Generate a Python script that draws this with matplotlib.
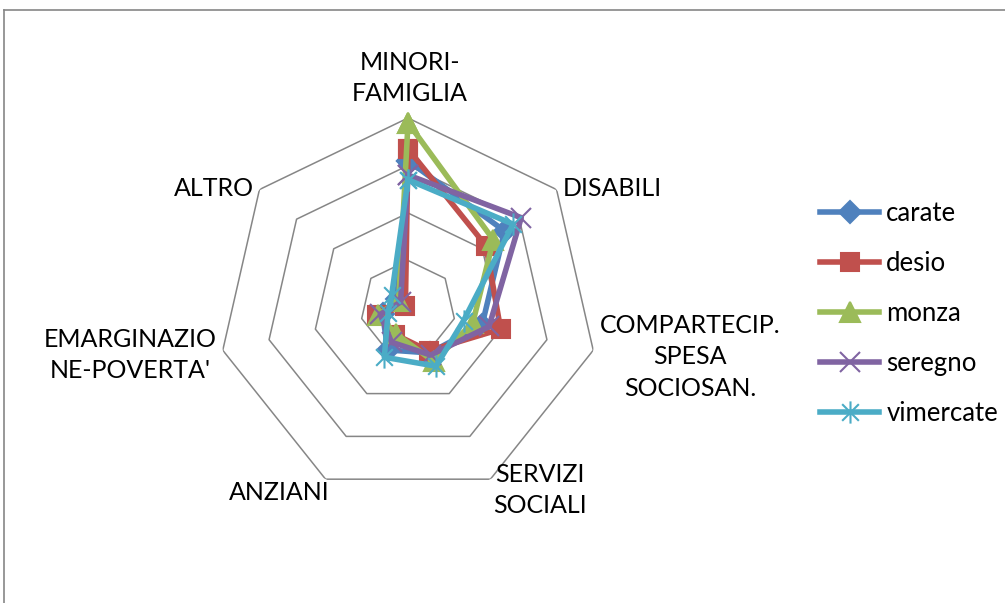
import numpy as np
import matplotlib
matplotlib.use('Agg')
import matplotlib.pyplot as plt
from matplotlib.path import Path
from matplotlib.lines import Line2D

plt.rcParams['font.family'] = ['Lato', 'DejaVu Sans']

categories = ["MINORI-\nFAMIGLIA", "DISABILI", "COMPARTECIP.\nSPESA\nSOCIOSAN.",
              "SERVIZI\nSOCIALI", "ANZIANI", "EMARGINAZIO\nNE-POVERTA'", "ALTRO"]
series_names = ["carate", "desio", "monza", "seregno", "vimercate"]
carate = [31, 26, 16, 10.5, 9.8, 5.5, 3]
desio = [33.5, 21, 20, 10, 6.2, 6.8, 0.7]
monza = [39, 23, 14, 12.5, 6, 6.5, 2.5]
seregno = [28, 30.5, 17.5, 11, 8, 6, 2]
vimercate = [27, 28.3, 12, 13.6, 11.5, 4.3, 4.4]
grid_levels = [10, 20, 30, 40]

colors = ['#4F81BD', '#C0504D', '#9BBB59', '#8064A2', '#4BACC6']
asterisk = Path([(0, -1), (0, 1), (-0.75, -0.75), (0.75, 0.75), (-0.75, 0.75), (0.75, -0.75)],
                [Path.MOVETO, Path.LINETO, Path.MOVETO, Path.LINETO, Path.MOVETO, Path.LINETO])
markers = ['D', 's', '^', 'x', asterisk]
msizes = [11, 13, 14, 14, 16]

W, H = 1005, 603
fig = plt.figure(figsize=(W / 100, H / 100), dpi=100)

cx, cy, R = 408, 308, 190
ax = fig.add_axes([(cx - R) / W, 1 - (cy + R) / H, 2 * R / W, 2 * R / H], projection='polar')
ax.set_theta_offset(np.pi / 2)
ax.set_theta_direction(-1)
ax.set_ylim(0, grid_levels[-1])
ax.set_xticks([])
ax.set_yticks([])
ax.grid(False)
ax.spines['polar'].set_visible(False)
ax.patch.set_alpha(0)

n = len(categories)
angles = np.linspace(0, 2 * np.pi, n, endpoint=False)
ang_c = np.append(angles, angles[0])

for lvl in grid_levels:
    ax.plot(ang_c, [lvl] * (n + 1), color='#868686', lw=1.1, zorder=1)

all_series = [carate, desio, monza, seregno, vimercate]
for name, vals, col, mk, ms in zip(series_names, all_series, colors, markers, msizes):
    v = list(vals) + [vals[0]]
    ax.plot(ang_c, v, color=col, lw=4, marker=mk, markersize=ms,
            markerfacecolor=col, markeredgecolor=col, markeredgewidth=1.5,
            label=name, zorder=3, clip_on=False)

# category labels (pixel positions)
label_pos = [(410, 78, 'center'), (563, 188, 'left'), (690, 357, 'center'),
             (540, 490, 'center'), (279, 492, 'center'), (130, 355, 'center'),
             (254, 188, 'right')]
for lab, (px, py, ha) in zip(categories, label_pos):
    fig.text(px / W, 1 - py / H, lab, ha=ha, va='center', fontsize=18,
             linespacing=1.45, color='black', multialignment='center')

leg = fig.legend(loc='upper left', bbox_to_anchor=(820 / W, 1 - 201 / H),
                 frameon=False, fontsize=18.5, handlelength=2.3, handletextpad=0.28,
                 labelspacing=0.97, borderpad=0, borderaxespad=0)

# chart border (extends off the image at right and bottom)
fig.add_artist(Line2D([3.5 / W, 1.01], [1 - 10 / H, 1 - 10 / H], color='#868686', lw=1.2,
                      transform=fig.transFigure))
fig.add_artist(Line2D([3.5 / W, 3.5 / W], [1 - 10 / H, -0.01], color='#868686', lw=1.2,
                      transform=fig.transFigure))

fig.savefig('out.png', dpi=100)
